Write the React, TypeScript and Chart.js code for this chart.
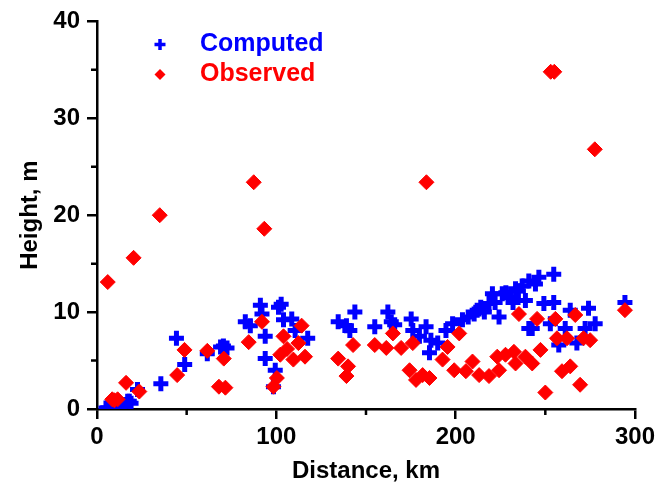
import React, { useEffect, useRef } from "react";
import { Chart, registerables } from "chart.js";

Chart.register(...registerables);

const computedX = [5, 6, 8.8, 9.7, 11, 14.3, 15.3, 17.1, 18, 19, 22.6, 35.6, 44.3, 48.9, 61.5, 68.9, 70.5, 72.5, 82.7, 85.5, 91.1, 92, 93.8, 93.8, 99.4, 98.4, 101.2, 102.7, 104, 108.6, 110.5, 117.5, 134.5, 139.1, 141, 143.8, 154.9, 162.2, 164.1, 166, 175.2, 176.1, 179.8, 183.5, 186.2, 185.4, 190, 194.6, 198.3, 203.8, 207, 210.3, 212, 214, 216, 218.6, 220.5, 222, 224.2, 226, 228, 230.6, 232, 233.4, 235, 237.1, 238.9, 240.8, 240.8, 242.7, 244.5, 246.4, 249.2, 252.8, 254.7, 254.7, 257.5, 261.1, 263.9, 267.6, 272.2, 274.1, 277.8, 294.4];
const computedY = [0.1, 0.12, 0.12, 0.12, 0.3, 0.46, 0.46, 0.8, 0.8, 0.6, 2.0, 2.6, 7.3, 4.6, 5.7, 6.4, 6.5, 6.3, 9.0, 8.6, 10.7, 9.8, 7.5, 5.2, 4.0, 2.3, 10.5, 10.8, 9.2, 9.3, 8.1, 7.3, 9.0, 8.6, 8.1, 10.0, 8.5, 10.0, 9.0, 8.7, 9.3, 8.1, 7.5, 8.5, 7.1, 5.8, 6.8, 8.1, 8.8, 9.2, 9.5, 9.8, 10.2, 10.5, 10.0, 10.9, 11.9, 11.0, 9.5, 11.9, 12.0, 11.5, 11.0, 12.4, 12.2, 12.7, 11.2, 13.2, 8.3, 8.3, 12.9, 13.6, 10.9, 8.8, 13.9, 11.0, 6.6, 8.3, 10.2, 6.8, 8.3, 10.4, 8.8, 11.0];

const observedX = [6, 8.5, 9.7, 11.5, 16.2, 20.4, 23.6, 35, 44.7, 48.8, 61.5, 68, 70.7, 71.6, 84.6, 87.4, 92, 93.3, 98.4, 100.3, 102.2, 104, 106, 109.5, 112.3, 114.1, 116, 134.5, 139.1, 140, 142.8, 154.9, 161.3, 165, 169.6, 174.3, 176.1, 177.9, 181.6, 183.7, 185.4, 192.7, 195.5, 199.2, 202, 205.7, 209.4, 213.1, 218.6, 223.2, 224.2, 227.8, 232.5, 233.4, 235.3, 238.9, 242.7, 245.4, 247.3, 250, 253, 255, 255.6, 256.5, 259.3, 262.1, 263.9, 266.7, 269.4, 271.3, 275, 277.6, 294.4];
const observedY = [13.1, 1.0, 0.9, 1.0, 2.7, 15.6, 1.8, 20.0, 3.5, 6.1, 6.0, 2.3, 5.2, 2.2, 6.9, 23.4, 9.0, 18.6, 2.3, 3.2, 5.6, 7.5, 6.2, 5.1, 6.8, 8.6, 5.4, 5.2, 3.4, 4.4, 6.6, 6.6, 6.3, 7.8, 6.3, 4.0, 6.8, 3.0, 3.5, 23.4, 3.2, 5.1, 6.4, 4.0, 7.8, 3.9, 4.9, 3.5, 3.4, 5.4, 4.0, 5.6, 5.9, 4.7, 9.8, 5.4, 4.7, 9.3, 6.1, 1.7, 34.8, 34.8, 9.3, 7.3, 3.9, 7.3, 4.4, 9.7, 2.5, 7.3, 7.1, 26.8, 10.2];

const xMajorTicks = [0, 100, 200, 300];
const xMinorTicks = [50, 150, 250];
const yMajorTicks = [0, 10, 20, 30, 40];
const yMinorTicks = [5, 15, 25, 35];

const seriesNames = ["Computed", "Observed"];
const BLUE = "#0000ff";
const RED = "#ff0000";
const FONT = "'Liberation Sans', Arial, sans-serif";

const minorTickPlugin = {
  id: "minorTicks",
  afterDraw(chart: any) {
    const ctx = chart.ctx;
    const xs = chart.scales.x;
    const ys = chart.scales.y;
    const area = chart.chartArea;
    ctx.save();
    ctx.strokeStyle = "#000";
    ctx.lineWidth = 2.5;
    ctx.beginPath();
    xMinorTicks.forEach((v) => {
      const px = xs.getPixelForValue(v);
      ctx.moveTo(px, area.bottom);
      ctx.lineTo(px, area.bottom + 6);
    });
    yMinorTicks.forEach((v) => {
      const py = ys.getPixelForValue(v);
      ctx.moveTo(area.left, py);
      ctx.lineTo(area.left - 6, py);
    });
    ctx.stroke();
    ctx.restore();
  },
};

const legendPlugin = {
  id: "insideLegend",
  afterDraw(chart: any) {
    const ctx = chart.ctx;
    const area = chart.chartArea;
    const mx = area.left + 63;
    const y1 = area.top + 23;
    const y2 = area.top + 53;
    ctx.save();
    ctx.strokeStyle = BLUE;
    ctx.lineWidth = 3.5;
    ctx.beginPath();
    ctx.moveTo(mx - 5.5, y1);
    ctx.lineTo(mx + 5.5, y1);
    ctx.moveTo(mx, y1 - 5.5);
    ctx.lineTo(mx, y1 + 5.5);
    ctx.stroke();
    ctx.fillStyle = RED;
    ctx.beginPath();
    ctx.moveTo(mx, y2 - 5.5);
    ctx.lineTo(mx + 5.5, y2);
    ctx.lineTo(mx, y2 + 5.5);
    ctx.lineTo(mx - 5.5, y2);
    ctx.closePath();
    ctx.fill();
    ctx.font = `bold 25px ${FONT}`;
    ctx.textBaseline = "middle";
    ctx.textAlign = "left";
    ctx.fillStyle = BLUE;
    ctx.fillText(seriesNames[0], area.left + 103, y1);
    ctx.fillStyle = RED;
    ctx.fillText(seriesNames[1], area.left + 103, y2);
    ctx.restore();
  },
};

export default function App() {
  const ref = useRef<HTMLCanvasElement | null>(null);
  useEffect(() => {
    if (!ref.current) return;
    const computed = computedX.map((x, i) => ({ x, y: computedY[i] }));
    const observed = observedX.map((x, i) => ({ x, y: observedY[i] }));
    const chart = new Chart(ref.current, {
      type: "scatter",
      data: {
        datasets: [
          {
            label: seriesNames[1],
            data: observed,
            pointStyle: "rectRot",
            pointRadius: 7.5,
            borderWidth: 1,
            backgroundColor: RED,
            borderColor: RED,
          },
          {
            label: seriesNames[0],
            data: computed,
            pointStyle: "cross",
            pointRadius: 7.5,
            borderWidth: 5,
            backgroundColor: BLUE,
            borderColor: BLUE,
          },
        ],
      },
      options: {
        responsive: false,
        animation: false,
        layout: { padding: { top: 19, right: 20, left: 0, bottom: 0 } },
        plugins: { legend: { display: false }, tooltip: { enabled: false } },
        scales: {
          x: {
            type: "linear",
            min: 0,
            max: 300,
            afterFit: (s: any) => {
              s.height = 80;
            },
            afterBuildTicks: (s: any) => {
              s.ticks = xMajorTicks.map((v) => ({ value: v }));
            },
            border: { display: true, color: "#000", width: 2.5 },
            grid: {
              display: true,
              drawOnChartArea: false,
              drawTicks: true,
              tickLength: 10,
              color: "#000",
              lineWidth: 2.5,
            },
            ticks: {
              color: "#000",
              padding: 4,
              maxRotation: 0,
              font: { family: FONT, size: 24, weight: "bold" },
            },
            title: {
              display: true,
              text: "Distance, km",
              color: "#000",
              padding: { top: 0, bottom: 3 },
              font: { family: FONT, size: 24, weight: "bold" },
            },
          },
          y: {
            type: "linear",
            min: 0,
            max: 40,
            afterFit: (s: any) => {
              s.width = 97;
            },
            afterBuildTicks: (s: any) => {
              s.ticks = yMajorTicks.map((v) => ({ value: v }));
            },
            border: { display: true, color: "#000", width: 2.5 },
            grid: {
              display: true,
              drawOnChartArea: false,
              drawTicks: true,
              tickLength: 10,
              color: "#000",
              lineWidth: 2.5,
            },
            ticks: {
              color: "#000",
              padding: 7,
              font: { family: FONT, size: 24, weight: "bold" },
            },
            title: {
              display: true,
              text: "Height, m",
              color: "#000",
              padding: { top: 16, bottom: 0 },
              font: { family: FONT, size: 24, weight: "bold" },
            },
          },
        },
      },
      plugins: [minorTickPlugin, legendPlugin],
    } as any);
    return () => chart.destroy();
  }, []);
  return (
    <div style={{ position: "fixed", left: 0, top: 0, width: 659, height: 489, background: "#fff" }}>
      <canvas ref={ref} width={659} height={489} style={{ width: 659, height: 489, display: "block" }} />
    </div>
  );
}
